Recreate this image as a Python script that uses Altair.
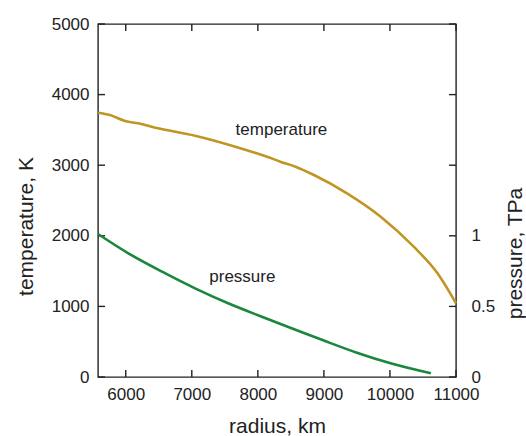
import altair as alt
import pandas as pd

# ---- data ----
temp_radius = [5580, 5760, 5990, 6190, 6450, 7050, 7660, 8160, 8340, 8570, 8850, 9350, 9860, 10360, 10720, 11000]
temp_K = [3744, 3711, 3626, 3593, 3531, 3418, 3262, 3112, 3050, 2979, 2861, 2602, 2271, 1846, 1469, 1044]

pres_radius = [5580, 6040, 6550, 7050, 7550, 8060, 8570, 9000, 9500, 10010, 10620]
pres_TPa = [1.013, 0.876, 0.746, 0.628, 0.522, 0.427, 0.335, 0.258, 0.172, 0.097, 0.026]

x_ticks = [6000, 7000, 8000, 9000, 10000, 11000]
temp_ticks = [0, 1000, 2000, 3000, 4000, 5000]
pres_labels = [0, 0.5, 1]

label_names = ["temperature", "pressure"]
label_radius = [8357, 7765]
label_value = [3428, 0.673]

X_DOMAIN = [5580, 11000]
T_DOMAIN = [0, 5000]
P_DOMAIN = [0, 2.5]

W, H = 358, 353
INK = "#222222"
FONT = "Liberation Sans"
TEMP_COLOR = "#C09522"
PRES_COLOR = "#1A873C"

temp_df = pd.DataFrame({"r": temp_radius, "T": temp_K})
pres_df = pd.DataFrame({"r": pres_radius, "P": pres_TPa})
xt_df = pd.DataFrame({"v": x_ticks})
tt_df = pd.DataFrame({"v": temp_ticks})
tlab_df = pd.DataFrame({"r": [label_radius[0]], "y": [label_value[0]], "t": [label_names[0]]})
plab_df = pd.DataFrame({"r": [label_radius[1]], "y": [label_value[1]], "t": [label_names[1]]})

xscale = alt.Scale(domain=X_DOMAIN, nice=False, zero=False)
tscale = alt.Scale(domain=T_DOMAIN, nice=False)
pscale = alt.Scale(domain=P_DOMAIN, nice=False)

x_axis = alt.Axis(
    values=x_ticks, format="d", ticks=False, domain=False, grid=False,
    labelPadding=9, labelFlush=False, title="radius, km",
    titleY=55, titleBaseline="alphabetic",
)
t_axis = alt.Axis(
    values=temp_ticks, format="d", ticks=False, domain=False, grid=False,
    labelPadding=9, labelFlush=False, title="temperature, K",
    titleAngle=270, titleX=-66, titleY=202, titleBaseline="alphabetic", titleAlign="center",
)
p_axis = alt.Axis(
    orient="right", values=pres_labels, format="~g", ticks=False, domain=False, grid=False,
    labelPadding=15, labelFlush=False, title="pressure, TPa",
    titleAngle=270, titleX=65, titleY=229, titleBaseline="alphabetic", titleAlign="center",
)

X = alt.X("r:Q", scale=xscale, axis=x_axis)

temp_line = alt.Chart(temp_df).mark_line(color=TEMP_COLOR, strokeWidth=2.6, interpolate="monotone").encode(
    x=X,
    y=alt.Y("T:Q", scale=tscale, axis=t_axis),
)
temp_text = alt.Chart(tlab_df).mark_text(font=FONT, fontSize=17, color=INK, align="center", baseline="alphabetic").encode(
    x=X,
    y=alt.Y("y:Q", scale=tscale, axis=t_axis),
    text="t:N",
)

tick_style = dict(color=INK, strokeWidth=1.4)
left_ticks = alt.Chart(tt_df).mark_rule(**tick_style).encode(
    y=alt.Y("v:Q", scale=tscale, axis=t_axis), x=alt.value(0), x2=alt.value(7))
right_ticks = alt.Chart(tt_df).mark_rule(**tick_style).encode(
    y=alt.Y("v:Q", scale=tscale, axis=t_axis), x=alt.value(W), x2=alt.value(W - 7))
bottom_ticks = alt.Chart(xt_df).mark_rule(**tick_style).encode(
    x=alt.X("v:Q", scale=xscale, axis=x_axis), y=alt.value(H), y2=alt.value(H - 7))
top_ticks = alt.Chart(xt_df).mark_rule(**tick_style).encode(
    x=alt.X("v:Q", scale=xscale, axis=x_axis), y=alt.value(0), y2=alt.value(7))

pres_line = alt.Chart(pres_df).mark_line(color=PRES_COLOR, strokeWidth=2.6, interpolate="monotone").encode(
    x=X,
    y=alt.Y("P:Q", scale=pscale, axis=p_axis),
)
pres_text = alt.Chart(plab_df).mark_text(font=FONT, fontSize=17, color=INK, align="center", baseline="alphabetic").encode(
    x=X,
    y=alt.Y("y:Q", scale=pscale, axis=p_axis),
    text="t:N",
)

left_layer = alt.layer(temp_line, temp_text, left_ticks, right_ticks, bottom_ticks, top_ticks)
right_layer = alt.layer(pres_line, pres_text)

chart = (
    alt.layer(left_layer, right_layer)
    .resolve_scale(y="independent")
    .properties(
        width=W, height=H,
        padding={"left": 98, "top": 24, "right": 70, "bottom": 59},
        autosize=alt.AutoSizeParams(type="none"),
        background="white",
    )
    .configure_view(stroke=INK, strokeWidth=1.4)
    .configure_axis(
        labelFont=FONT, labelFontSize=17, labelColor=INK,
        titleFont=FONT, titleFontSize=21, titleFontWeight="normal", titleColor=INK,
    )
)

chart.save("out.html", embed_options={"renderer": "svg", "actions": False})
